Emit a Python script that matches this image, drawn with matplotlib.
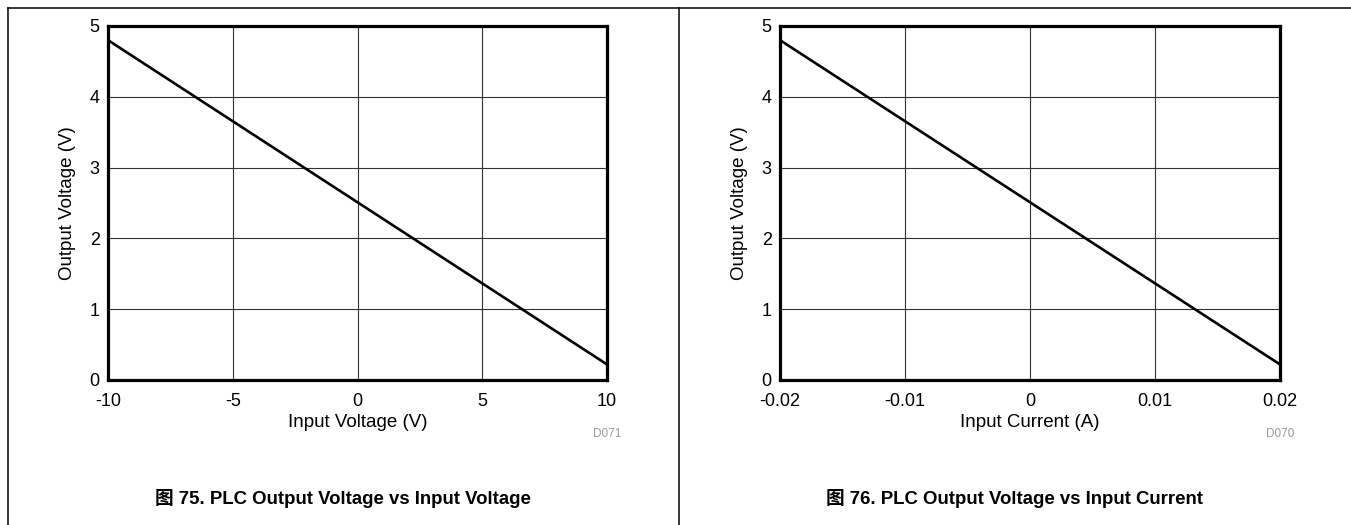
import matplotlib
matplotlib.use("Agg")
import matplotlib.pyplot as plt
from matplotlib.lines import Line2D

plt.rcParams['font.family'] = ['Liberation Sans', 'Noto Sans CJK SC']

# Data: PLC output voltage vs input (linear transfer endpoints)
vin = [-10, 10]
vout_v = [4.8, 0.22]
iin = [-0.02, 0.02]
vout_i = [4.8, 0.22]

x_ticks_v = [-10, -5, 0, 5, 10]
x_ticks_i = [-0.02, -0.01, 0, 0.01, 0.02]
x_ticklabels_i = ['-0.02', '-0.01', '0', '0.01', '0.02']
y_ticks = [0, 1, 2, 3, 4, 5]

W, H = 1351, 525
fig = plt.figure(figsize=(W / 100, H / 100), dpi=100)


def px(x0, y0, x1, y1):
    return [x0 / W, 1 - y1 / H, (x1 - x0) / W, (y1 - y0) / H]


def setup(ax, x, y, xticks, xticklabels, xlabel, code, xlim):
    ax.plot(x, y, color='black', lw=1.9, solid_capstyle='butt', zorder=3, clip_on=False)
    ax.set_xlim(*xlim)
    ax.set_ylim(0, 5)
    ax.set_xticks(xticks)
    ax.set_xticklabels(xticklabels)
    ax.set_yticks(y_ticks)
    ax.grid(True, color='#333333', lw=0.8)
    ax.set_axisbelow(True)
    for s in ax.spines.values():
        s.set_linewidth(2.3)
        s.set_color('black')
    ax.tick_params(length=0, labelsize=13, colors='black')
    ax.tick_params(axis='x', pad=9)
    ax.tick_params(axis='y', pad=6)
    ax.set_xlabel(xlabel, fontsize=13.5, labelpad=3)
    ax.set_ylabel('Output Voltage (V)', fontsize=13.5, labelpad=10)
    ax.text(1.0, -0.135, code, transform=ax.transAxes, fontsize=8.5,
            color='#999999', ha='center', va='top')


ax1 = fig.add_axes(px(108, 26, 607, 380))
setup(ax1, vin, vout_v, x_ticks_v, [str(t) for t in x_ticks_v],
      'Input Voltage (V)', 'D071', (-10, 10))

ax2 = fig.add_axes(px(780, 26, 1280, 380))
setup(ax2, iin, vout_i, x_ticks_i, x_ticklabels_i,
      'Input Current (A)', 'D070', (-0.02, 0.02))

# Captions
fig.text(343 / W, 1 - 498 / H, '图 75. PLC Output Voltage vs Input Voltage',
         fontsize=13.4, fontweight='bold', ha='center', va='center')
fig.text(1015 / W, 1 - 498 / H, '图 76. PLC Output Voltage vs Input Current',
         fontsize=13.4, fontweight='bold', ha='center', va='center')

# Frame lines of the page layout
def fline(xs, ys):
    fig.add_artist(Line2D([x / W for x in xs], [1 - y / H for y in ys],
                          color='black', lw=1.1, transform=fig.transFigure))

fline([8, W], [8, 8])
fline([8, 8], [8, H])
fline([679, 679], [8, H])

fig.savefig('out.png', dpi=100)
